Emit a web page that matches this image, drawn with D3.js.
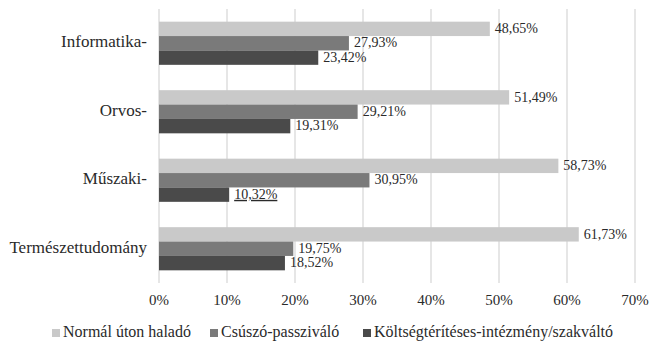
<!DOCTYPE html>
<html>
<head>
<meta charset="utf-8">
<script src="https://cdn.jsdelivr.net/npm/d3@7"></script>
<style>
  html, body { margin: 0; padding: 0; background: #fff; }
  svg { display: block; }
</style>
</head>
<body>
<svg id="chart" width="652" height="342"></svg>
<script>
// Categories (top to bottom) and the three series, in percent
const categories = ["Informatika-", "Orvos-", "Műszaki-", "Természettudomány"];
const seriesNames = ["Normál úton haladó", "Csúszó-passziváló", "Költségtérítéses-intézmény/szakváltó"];
const normal = [48.65, 51.49, 58.73, 61.73];
const csuszo = [27.93, 29.21, 30.95, 19.75];
const koltseg = [23.42, 19.31, 10.32, 18.52];
const tickValues = [0, 10, 20, 30, 40, 50, 60, 70];
const colors = ["#c9c9c9", "#7a7a7a", "#4a4a4a"];

const seriesValues = [normal, csuszo, koltseg];
const fmt = v => v.toFixed(2).replace(".", ",") + "%";
const FONT = '"Liberation Serif"';
const INK = "#2a2a2a";

const svg = d3.select("#chart");
const plotLeft = 159, plotRight = 635, plotTop = 9, plotBottom = 283;

const x = d3.scaleLinear().domain([0, 70]).range([plotLeft, plotRight]);
const y = d3.scaleBand().domain(categories).range([plotTop, plotBottom])
  .paddingInner(0.37).paddingOuter(0.185);
const ys = d3.scaleBand().domain(seriesNames).range([0, y.bandwidth()]);

// vertical gridlines
svg.append("g").selectAll("line").data(tickValues).join("line")
  .attr("x1", d => x(d)).attr("x2", d => x(d))
  .attr("y1", plotTop).attr("y2", plotBottom)
  .attr("stroke", "#d9d9d9").attr("stroke-width", 1.3);

// x axis tick labels
svg.append("g").selectAll("text").data(tickValues).join("text")
  .attr("x", d => x(d)).attr("y", 302)
  .attr("text-anchor", "middle").attr("dominant-baseline", "middle")
  .style("font-family", FONT).style("font-size", "15px").attr("fill", INK)
  .text(d => d + "%");

// category labels
svg.append("g").selectAll("text").data(categories).join("text")
  .attr("x", plotLeft - 12).attr("y", d => y(d) + y.bandwidth() / 2)
  .attr("text-anchor", "end").attr("dominant-baseline", "middle")
  .style("font-family", FONT).style("font-size", "17px").attr("fill", INK)
  .text(d => d);

// bars and value labels
const rows = [];
categories.forEach((c, i) => {
  seriesNames.forEach((s, j) => rows.push({ c, s, j, v: seriesValues[j][i] }));
});

svg.append("g").selectAll("rect").data(rows).join("rect")
  .attr("x", x(0))
  .attr("y", d => y(d.c) + ys(d.s))
  .attr("width", d => x(d.v) - x(0))
  .attr("height", ys.bandwidth())
  .attr("fill", d => colors[d.j]);

svg.append("g").selectAll("text").data(rows).join("text")
  .attr("x", d => x(d.v) + 5)
  .attr("y", d => y(d.c) + ys(d.s) + ys.bandwidth() / 2 + 1)
  .attr("dominant-baseline", "middle")
  .style("font-family", FONT).style("font-size", "14px").attr("fill", INK)
  .attr("text-decoration", d => (d.c === "Műszaki-" && d.j === 2) ? "underline" : null)
  .text(d => fmt(d.v));

// legend
const legendX = [52, 210, 363];
const lg = svg.append("g").selectAll("g").data(seriesNames).join("g")
  .attr("transform", (d, i) => `translate(${legendX[i]},333)`);
lg.append("rect").attr("x", 0).attr("y", -4).attr("width", 8).attr("height", 8)
  .attr("fill", (d, i) => colors[i]);
lg.append("text").attr("x", 11).attr("y", 0)
  .attr("dominant-baseline", "middle")
  .style("font-family", FONT).style("font-size", "16px").attr("fill", INK)
  .text(d => d);
</script>
</body>
</html>
